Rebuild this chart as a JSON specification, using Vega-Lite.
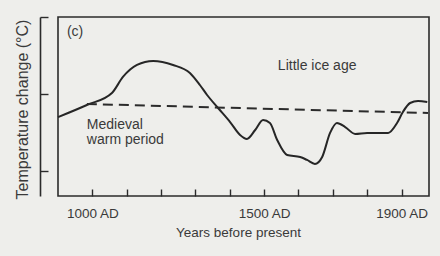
{
  "$schema": "https://vega.github.io/schema/vega-lite/v6.json",
  "autosize": "none",
  "width": 371,
  "height": 179,
  "padding": {"left": 58, "top": 17, "right": 11, "bottom": 60},
  "background": "#eeeeeb",
  "config": {
    "view": {"stroke": "#2b2b2b", "strokeWidth": 1.6},
    "font": "Liberation Sans"
  },
  "datasets": {
    "curve": [
      {"year": 900, "temp": -0.30},
      {"year": 984, "temp": -0.143},
      {"year": 1057, "temp": 0.013},
      {"year": 1089, "temp": 0.221},
      {"year": 1130, "temp": 0.377},
      {"year": 1177, "temp": 0.429},
      {"year": 1235, "temp": 0.377},
      {"year": 1284, "temp": 0.273},
      {"year": 1313, "temp": 0.117},
      {"year": 1334, "temp": -0.013},
      {"year": 1366, "temp": -0.182},
      {"year": 1401, "temp": -0.364},
      {"year": 1430, "temp": -0.532},
      {"year": 1450, "temp": -0.584},
      {"year": 1474, "temp": -0.468},
      {"year": 1497, "temp": -0.338},
      {"year": 1517, "temp": -0.377},
      {"year": 1538, "temp": -0.597},
      {"year": 1567, "temp": -0.792},
      {"year": 1605, "temp": -0.818},
      {"year": 1625, "temp": -0.857},
      {"year": 1648, "temp": -0.909},
      {"year": 1669, "temp": -0.818},
      {"year": 1692, "temp": -0.506},
      {"year": 1712, "temp": -0.377},
      {"year": 1736, "temp": -0.429},
      {"year": 1765, "temp": -0.519},
      {"year": 1800, "temp": -0.506},
      {"year": 1829, "temp": -0.506},
      {"year": 1861, "temp": -0.506},
      {"year": 1887, "temp": -0.377},
      {"year": 1904, "temp": -0.234},
      {"year": 1925, "temp": -0.117},
      {"year": 1948, "temp": -0.091},
      {"year": 1975, "temp": -0.104}
    ],
    "ref": [
      {"year": 984, "temp": -0.13},
      {"year": 1977, "temp": -0.247}
    ],
    "notes": [
      {"year": 926, "temp": 0.805, "label": "(c)"},
      {"year": 1540, "temp": 0.364, "label": "Little ice age"},
      {"year": 984, "temp": -0.403, "label": "Medieval"},
      {"year": 984, "temp": -0.597, "label": "warm period"}
    ]
  },
  "layer": [
    {
      "data": {"name": "curve"},
      "mark": {"type": "line", "interpolate": "monotone", "color": "#262626", "strokeWidth": 2},
      "encoding": {
        "x": {
          "field": "year", "type": "quantitative",
          "scale": {"domain": [900, 1980], "nice": false, "zero": false},
          "axis": {
            "title": "Years before present",
            "titleFontSize": 13.5, "titleFontWeight": "normal", "titleColor": "#3a3a3a",
            "titleX": 180, "titlePadding": 6,
            "values": [1000, 1100, 1200, 1300, 1400, 1500, 1600, 1700, 1800, 1900],
            "labelExpr": "indexof([1000,1500,1900], datum.value) >= 0 ? datum.value + ' AD' : ''",
            "labelFontSize": 13.5, "labelColor": "#3a3a3a", "labelOverlap": false, "labelFlush": false,
            "labelPadding": 17,
            "domain": false, "grid": false,
            "tickSize": -7, "tickColor": "#2b2b2b", "tickWidth": 1.4
          }
        },
        "y": {
          "field": "temp", "type": "quantitative",
          "scale": {"domain": [-1.325, 1], "nice": false, "zero": false},
          "axis": {
            "title": "Temperature change (°C)",
            "titleFontSize": 16, "titleFontWeight": "normal", "titleColor": "#3a3a3a",
            "titleX": -18, "titleY": 92, "titleAngle": 270, "titleBaseline": "middle", "titleAlign": "center",
            "values": [1, 0, -1],
            "labels": false,
            "offset": 18,
            "domain": true, "domainColor": "#2b2b2b", "domainWidth": 1.6,
            "grid": false,
            "tickSize": -8, "tickColor": "#2b2b2b", "tickWidth": 1.4
          }
        }
      }
    },
    {
      "data": {"name": "ref"},
      "mark": {"type": "line", "color": "#2b2b2b", "strokeWidth": 2, "strokeDash": [10, 6]},
      "encoding": {
        "x": {"field": "year", "type": "quantitative"},
        "y": {"field": "temp", "type": "quantitative"}
      }
    },
    {
      "data": {"name": "notes"},
      "mark": {"type": "text", "align": "left", "baseline": "middle", "fontSize": 14, "color": "#3a3a3a"},
      "encoding": {
        "x": {"field": "year", "type": "quantitative"},
        "y": {"field": "temp", "type": "quantitative"},
        "text": {"field": "label"}
      }
    }
  ]
}
